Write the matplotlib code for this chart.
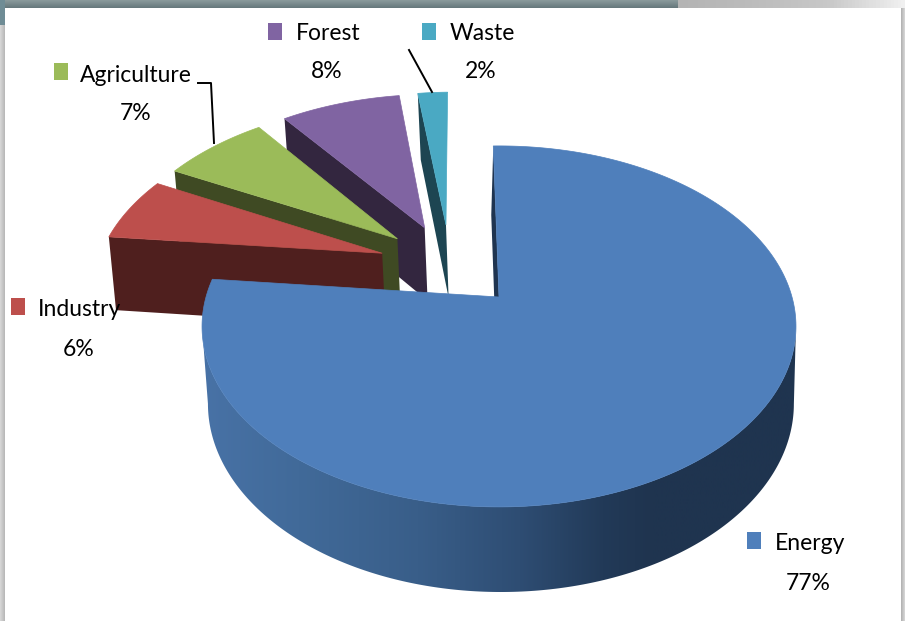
import numpy as np

import matplotlib
matplotlib.use('Agg')
import matplotlib.pyplot as plt
from matplotlib.colors import LinearSegmentedColormap
from matplotlib.patches import Polygon, Rectangle

# Shares of each sector, clockwise from the top of the pie
SECTORS = ['Energy', 'Industry', 'Agriculture', 'Forest', 'Waste']
SHARES = [77, 6, 7, 8, 2]

TOP_COLORS = ['#4f7fbb', '#bd4f4c', '#9bbb59', '#8064a2', '#4aa9c3']
FACE_COLORS = ['#1f3450', '#4f1f1e', '#3f4a23', '#33263f', '#1d4552']

# Label anchors in pixels: key square left/top, text left/centre y, percent centre x/y
LABEL_POS = {
    'Energy': (747, 532, 775, 544, 808, 583),
    'Industry': (11, 298, 38, 310, 79, 350),
    'Agriculture': (54, 63, 80, 75, 136, 114),
    'Forest': (268, 23, 296, 33, 327, 72),
    'Waste': (422, 23, 450, 33, 481, 72),
}

W, H = 905, 621
CX, CY = 499, 297       # where the un-exploded energy apex lands
R, RY = 293, 175.7      # pie radius, across and along the view direction
PERSP = 0.163           # foreshortening along the view direction
START = -1.3            # degrees
EXPLODE = 0.254         # relative to the radius
DEPTH = 76
FONT = 'Lato'
FONT_SIZE = 16.5

plt.rcParams['font.family'] = [FONT, 'DejaVu Sans']


def project(u, v):
    w = 1 / (1 + PERSP * v)
    return CX + R * u * w, CY - RY * v * w


def drop(u, v):
    # the lower rim of the pie: further away, so it converges a little
    x, y = project(u, v)
    w = 1 / (1 + PERSP * v)
    return x + (640 - x) * 0.0135, y + DEPTH * w ** 0.635


def direction(deg):
    a = np.radians(deg)
    return np.sin(a), np.cos(a)


def wall_gradient(ax, poly):
    cmap = LinearSegmentedColormap.from_list('wall', [
        (0.0, '#4872a6'), (0.16, '#416a99'), (0.36, '#395e89'),
        (0.53, '#2e4d73'), (0.67, '#223a58'), (0.75, '#1f344f'), (1.0, '#1f344f')])
    img = ax.imshow(np.linspace(0, 1, 256).reshape(1, -1), cmap=cmap, aspect='auto',
                    extent=(203, 800, 600, 150), zorder=3)
    patch = Polygon(poly, closed=True, transform=ax.transData, facecolor='none', edgecolor='none')
    ax.add_patch(patch)
    img.set_clip_path(patch)


def plot_frame(ax):
    # slide frame: white panel with a shaded edge
    left = LinearSegmentedColormap.from_list('l', ['#d8d8d8', '#b0b0b0'])
    ax.imshow(np.linspace(0, 1, 16).reshape(1, -1), cmap=left, aspect='auto',
              extent=(0, 5, H, 0), zorder=0)
    ax.imshow(np.linspace(1, 0, 16).reshape(1, -1), cmap=left, aspect='auto',
              extent=(901, 905, H, 0), zorder=0)
    top = LinearSegmentedColormap.from_list('t', ['#b4b4b4', '#bcbcbc', '#c8c8c8', '#f0f0f0'])
    ax.imshow(np.linspace(0, 1, 64).reshape(1, -1), cmap=top, aspect='auto',
              extent=(677, 905, 8, 0), zorder=1)
    slate = LinearSegmentedColormap.from_list('s', ['#8a9a9c', '#66787c'])
    ax.imshow(np.linspace(0, 1, 16).reshape(-1, 1), cmap=slate, aspect='auto',
              extent=(0, 677, 8, 0), zorder=1)
    ax.add_patch(Rectangle((0, 0), 5, 25, facecolor='#6f8c95', edgecolor='none', zorder=1))
    ax.add_patch(Rectangle((5, 8), 896, H - 8, facecolor='white', edgecolor='none', zorder=2))


def plot_pie(ax):
    angles = START + np.cumsum([0] + SHARES) * 3.6

    # energy apex stays at the origin, the whole pie centre sits behind it
    mid = (angles[0] + angles[1]) / 2
    du, dv = direction(mid)
    pie_u, pie_v = -EXPLODE * du, -EXPLODE * dv

    # back slices first, energy last
    for i in range(len(SECTORS) - 1, -1, -1):
        a0, a1 = angles[i], angles[i + 1]
        du, dv = direction((a0 + a1) / 2)
        au, av = pie_u + EXPLODE * du, pie_v + EXPLODE * dv

        t = np.radians(np.linspace(a0, a1, 400))
        us, vs = au + np.sin(t), av + np.cos(t)
        top = np.column_stack(project(us, vs))
        apex = np.array(project(au, av))
        z = 4 + 3 * (len(SECTORS) - i)

        if i == 0:
            # outer wall only between the side extremes, the straight ends are its silhouette
            low = np.column_stack(drop(us, vs))
            ir, il = top[:, 0].argmax(), top[:, 0].argmin()
            wall_gradient(ax, np.vstack([top[ir:il + 1], low[ir:il + 1][::-1]]))
            z = 30

        # radial side wall on the clockwise-start edge, seen from the left
        apex_low = np.array(drop(au, av))
        if i == 0:
            shift = np.array([-4, 0])
            face = [top[0], apex, apex_low + shift, np.array(drop(us[0], vs[0])) + shift]
        else:
            face = [top[0], apex, apex_low, np.array(drop(us[0], vs[0]))]
        ax.add_patch(Polygon(face, closed=True, facecolor=FACE_COLORS[i], edgecolor='none', zorder=z))
        ax.add_patch(Polygon(np.vstack([apex, top]), closed=True, facecolor=TOP_COLORS[i],
                             edgecolor=TOP_COLORS[i], linewidth=0.5, zorder=z + 1))


def plot_labels(ax):
    for name, share, color in zip(SECTORS, SHARES, TOP_COLORS):
        kx, ky, tx, ty, px, py = LABEL_POS[name]
        ax.add_patch(Rectangle((kx, ky), 14, 17, facecolor=color, edgecolor='none', zorder=40))
        ax.text(tx, ty, name, ha='left', va='center', fontsize=FONT_SIZE, color='black', zorder=41)
        ax.text(px, py, '%i%%' % share, ha='center', va='center', fontsize=FONT_SIZE, color='black', zorder=41)

    # leader lines for the two slices whose labels sit away from them
    ax.plot([198, 211, 214], [83, 83, 143], color='black', linewidth=1.4, zorder=42)
    ax.plot([409, 432], [50, 92], color='black', linewidth=1.4, zorder=42)


fig = plt.figure(figsize=(W / 100, H / 100), dpi=100)
ax = fig.add_axes([0, 0, 1, 1])

plot_frame(ax)
plot_pie(ax)
plot_labels(ax)

ax.set_xlim(0, W)
ax.set_ylim(H, 0)
ax.axis('off')
fig.savefig('out.png', dpi=100)
